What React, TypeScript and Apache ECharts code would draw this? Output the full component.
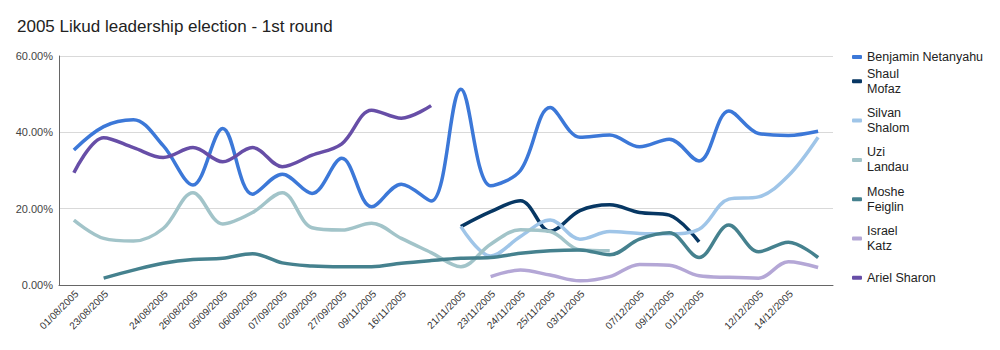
import React, { useEffect, useRef } from 'react';
import * as echarts from 'echarts';

const categories = [
  '01/08/2005', '23/08/2005', '', '24/08/2005', '26/08/2005', '05/09/2005', '06/09/2005',
  '07/09/2005', '02/09/2005', '27/09/2005', '09/11/2005', '16/11/2005', '', '21/11/2005',
  '23/11/2005', '24/11/2005', '25/11/2005', '03/11/2005', '', '07/12/2005', '09/12/2005',
  '01/12/2005', '', '12/12/2005', '14/12/2005', '',
];

const seriesNames = [
  'Benjamin Netanyahu', 'Shaul Mofaz', 'Silvan Shalom', 'Uzi Landau',
  'Moshe Feiglin', 'Israel Katz', 'Ariel Sharon',
];
const legendLabels = [
  'Benjamin Netanyahu', 'Shaul\nMofaz', 'Silvan\nShalom', 'Uzi\nLandau',
  'Moshe\nFeiglin', 'Israel\nKatz', 'Ariel Sharon',
];
const colors = ['#3c78d8', '#073763', '#9fc5e8', '#a2c4c9', '#45818e', '#b4a7d6', '#674ea7'];

const N = null;
const netanyahu = [35.4, 41.5, 43.3, 36.5, 26.2, 41, 23.8, 29, 24, 33.2, 20.5, 26.4, 22, 51.3, 26, 30, 46.5, 38.7, 39.3, 36.2, 38.2, 32.5, 45.6, 39.7, 39.2, 40.3];
const mofaz = [N, N, N, N, N, N, N, N, N, N, N, N, N, 15.3, 19.2, 22.1, 14.1, 19.5, 21, 19, 18.3, 11.3, N, N, N, N];
const shalom = [N, N, N, N, N, N, N, N, N, N, N, N, N, 15.3, 7.6, 12.7, 17, 12, 14, 13.5, 13.4, 14.6, 22.5, 23.1, 28.6, 38.7];
const landau = [17, 12.2, 11.5, 14.8, 24.2, 16, 19, 24.2, 15, 14.4, 16.2, 12.2, 8.5, 4.8, 10.7, 14.5, 14, 9.2, 9, N, N, N, N, N, N, N];
const feiglin = [N, 1.8, 3.9, 5.7, 6.7, 7, 8.2, 5.8, 5, 4.8, 4.8, 5.7, 6.4, 7, 7.2, 8.3, 9, 9.2, 7.9, 12, 13.7, 7.2, 15.7, 8.7, 11.2, 7.2];
const katz = [N, N, N, N, N, N, N, N, N, N, N, N, N, N, 2.2, 3.9, 2.6, 1.1, 2.2, 5.4, 5.2, 2.4, 2, 1.8, 6.1, 4.6];
const sharon = [29.4, 38.6, 36, 33.4, 36, 32.3, 36, 31, 34, 37, 45.8, 43.7, 47, N, N, N, N, N, N, N, N, N, N, N, N, N];

const seriesData = [netanyahu, mofaz, shalom, landau, feiglin, katz, sharon];

const FONT = '"Liberation Sans", Arial, sans-serif';

export default function App() {
  const ref = useRef<HTMLDivElement>(null);

  useEffect(() => {
    document.body.style.margin = '0';
    const chart = echarts.init(ref.current as HTMLDivElement, null, { renderer: 'svg' });
    const lineH = 15;
    const legendData = seriesNames.map((name, i) => {
      const lines = legendLabels[i].split('\n').length;
      let padding: number[] | undefined;
      if (lines > 1) padding = [lineH, 0, 0, 0];
      else if (i > 0) padding = [lineH, 0, lineH, 0];
      return padding ? { name, textStyle: { padding } } : { name };
    });

    chart.setOption({
      animation: false,
      textStyle: { fontFamily: FONT },
      title: {
        text: '2005 Likud leadership election - 1st round',
        left: 17,
        top: 18,
        padding: 0,
        textStyle: { fontSize: 17, fontWeight: 'normal', color: '#222', fontFamily: FONT },
      },
      legend: {
        orient: 'vertical',
        left: 852,
        top: 49.5,
        padding: 0,
        itemGap: -5.7,
        itemWidth: 10,
        itemHeight: 4,
        icon: 'roundRect',
        textStyle: { fontSize: 12.5, color: '#222', lineHeight: lineH, fontFamily: FONT },
        formatter: (name: string) => legendLabels[seriesNames.indexOf(name)],
        data: legendData,
      },
      grid: { left: 59, right: 167, top: 56, bottom: 65, containLabel: false },
      xAxis: {
        type: 'category',
        data: categories,
        boundaryGap: true,
        axisTick: { show: false },
        axisLine: { lineStyle: { color: '#666', width: 1 } },
        axisLabel: {
          rotate: 45,
          interval: 0,
          fontSize: 10,
          color: '#333',
          margin: 10,
          padding: [0, -4, 0, 0],
          fontFamily: FONT,
        },
      },
      yAxis: {
        type: 'value',
        min: 0,
        max: 60,
        interval: 20,
        axisLine: { show: true, lineStyle: { color: '#666' } },
        axisTick: { show: false },
        splitLine: { lineStyle: { color: '#d9d9d9' } },
        axisLabel: {
          fontSize: 11,
          color: '#444',
          margin: 6,
          fontFamily: FONT,
          formatter: (v: number) => v.toFixed(2) + '%',
        },
      },
      series: seriesNames.map((name, i) => ({
        name,
        type: 'line',
        data: seriesData[i],
        smooth: 0.35,
        symbol: 'none',
        showSymbol: false,
        color: colors[i],
        lineStyle: { width: 3.5, color: colors[i] },
      })),
    });

    return () => chart.dispose();
  }, []);

  return <div ref={ref} style={{ width: 1000, height: 350 }} />;
}
